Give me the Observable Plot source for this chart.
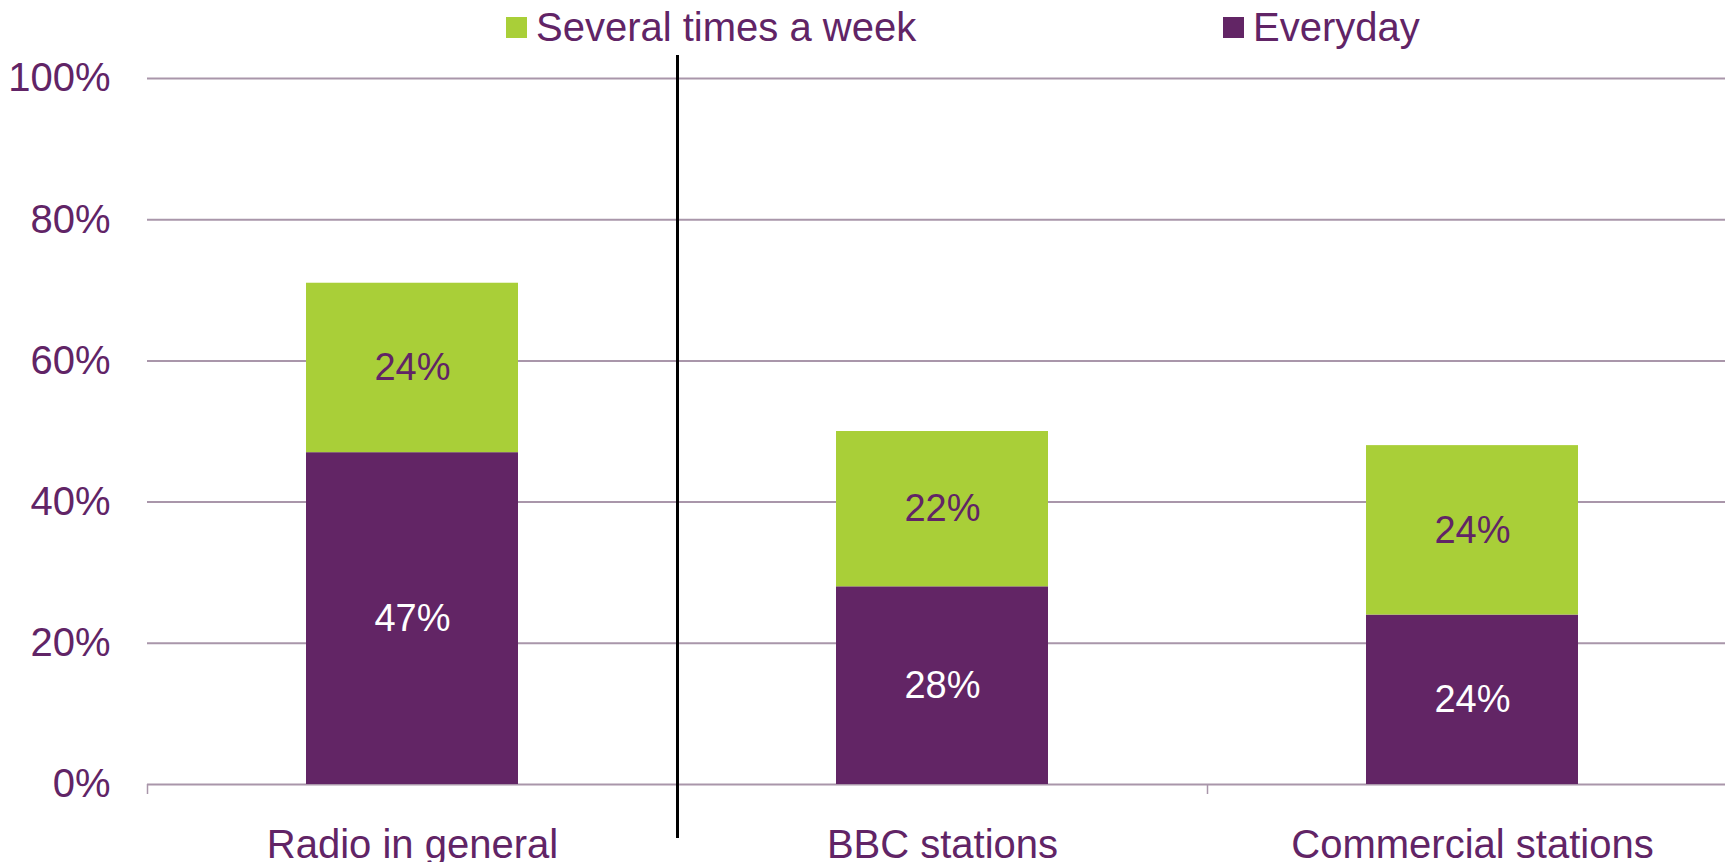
<!DOCTYPE html>
<html><head><meta charset="utf-8">
<script src="https://cdn.jsdelivr.net/npm/d3@7"></script>
<script src="https://cdn.jsdelivr.net/npm/@observablehq/plot@0.6"></script>
<style>
html,body{margin:0;padding:0;background:#fff;overflow:hidden;width:1725px;height:862px;}
body{font-family:"Liberation Sans",Arial,sans-serif;}
#legend{position:relative;height:50px;width:1725px;}
.item{position:absolute;top:6px;display:flex;align-items:center;height:42px;font-size:40px;color:#612466;white-space:nowrap;}
.sw{width:21px;height:21px;margin-right:9px;}
#chart svg{display:block;max-width:none !important;}
</style></head><body>
<div id="legend"></div><div id="chart"></div>
<script>
const categories = ["Radio in general", "BBC stations", "Commercial stations"];
const seriesNames = ["Everyday", "Several times a week"];
const everyday = [0.47, 0.28, 0.24];
const severalTimes = [0.24, 0.22, 0.24];
const yTicks = [0, 0.2, 0.4, 0.6, 0.8, 1];
const legendOrder = ["Several times a week", "Everyday"];
const legendLeft = [506, 1223];

const purple = "#622565";
const green = "#A9CF38";
const textColor = "#612466";
const gridColor = "#A996AA";
const colorOf = {"Everyday": purple, "Several times a week": green};

const data = [];
categories.forEach((c, i) => {
  data.push({category: c, series: seriesNames[0], value: everyday[i]});
  data.push({category: c, series: seriesNames[1], value: severalTimes[i]});
});

// legend
const legend = document.getElementById("legend");
legendOrder.forEach((s, i) => {
  const it = document.createElement("div");
  it.className = "item";
  it.style.left = legendLeft[i] + "px";
  const sw = document.createElement("span");
  sw.className = "sw";
  sw.style.background = colorOf[s];
  it.appendChild(sw);
  it.appendChild(document.createTextNode(s));
  legend.appendChild(it);
});

const width = 1737, height = 812;
const marginLeft = 147, marginRight = 0, marginTop = 28, marginBottom = 78;
const step = (width - marginLeft - marginRight) / categories.length;
const plotH = height - marginTop - marginBottom;
const fmt = d3.format(".0%");

const chart = Plot.plot({
  width, height, marginLeft, marginRight, marginTop, marginBottom,
  style: {fontFamily: '"Liberation Sans", Arial, sans-serif', fontSize: "40px", background: "white", maxWidth: "none"},
  x: {domain: categories, paddingInner: 0.6, paddingOuter: 0.3, label: null},
  y: {domain: [0, 1], label: null},
  color: {domain: seriesNames, range: [purple, green]},
  marks: [
    Plot.gridY(yTicks, {stroke: gridColor, strokeOpacity: 1, strokeWidth: 2}),
    Plot.ruleX([categories[0], categories[2]], {x: d => d, dx: -step / 2, stroke: gridColor, strokeWidth: 1.5, insetTop: plotH, insetBottom: -10}),
    Plot.barY(data, Plot.stackY({x: "category", y: "value", fill: "series", order: seriesNames})),
    Plot.text(data, Plot.stackY({x: "category", y: "value", z: "series", order: seriesNames,
      text: d => fmt(d.value), fill: d => d.series === "Everyday" ? "white" : textColor, fontSize: 38})),
    Plot.ruleX([categories[1]], {x: d => d, dx: -step / 2, stroke: "black", strokeWidth: 3, insetTop: -23, insetBottom: -54}),
    Plot.axisY(yTicks, {tickFormat: fmt, tickSize: 0, tickPadding: 37, fontSize: 40, fill: textColor, label: null}),
    Plot.axisX({tickSize: 0, tickPadding: 45, fontSize: 40, fill: textColor, label: null})
  ]
});
document.getElementById("chart").appendChild(chart);
</script>
</body></html>
